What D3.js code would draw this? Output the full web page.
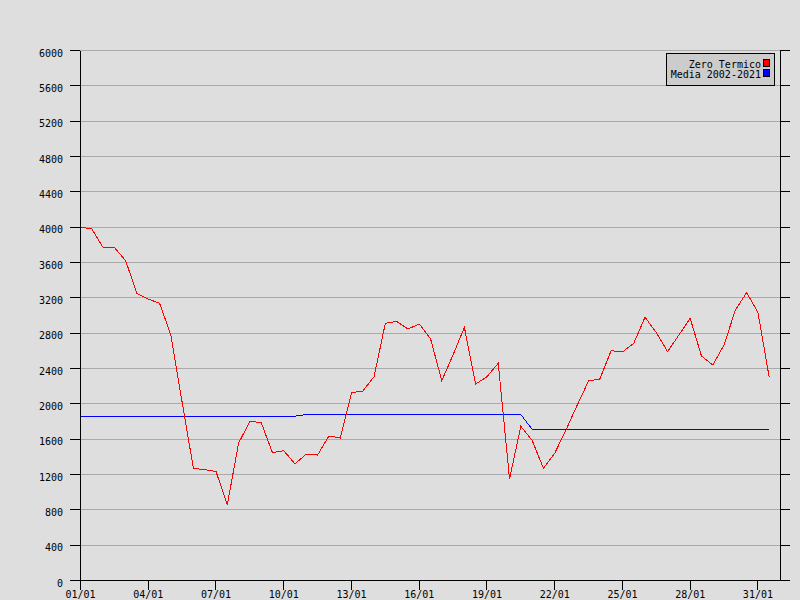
<!DOCTYPE html>
<html>
<head>
<meta charset="utf-8">
<script src="https://cdn.jsdelivr.net/npm/d3@7"></script>
<style>
  html, body { margin: 0; padding: 0; background: #dedede; }
  svg { display: block; }
  text { font-family: "DejaVu Sans Mono", monospace; font-size: 10px; fill: #000; }
</style>
</head>
<body>
<svg id="chart" width="800" height="600"></svg>
<script>
// ---- Data ----
const xTickLabels = ["01/01","04/01","07/01","10/01","13/01","16/01","19/01","22/01","25/01","28/01","31/01"];
const yTicks = [0,400,800,1200,1600,2000,2400,2800,3200,3600,4000,4400,4800,5200,5600,6000];
// two readings per day (00 and 12 UTC), 01/01 to 31/01 12h
const zeroTermico = [
  4000,3980,3770,3770,3620,3250,3185,3140,2780,2020,
  1270,1255,1235,855,1555,1800,1790,1447,1470,1320,
  1432,1420,1636,1613,2126,2145,2307,2912,2934,2847,
  2904,2738,2262,2555,2866,2225,2307,2459,1150,1745,
  1587,1270,1440,1704,1987,2259,2281,2602,2587,2685,
  2980,2806,2591,2779,2968,2542,2440,2666,3062,3258,
  3036,2300
];
const media = [
  1860,1860,1860,1860,1860,1860,1860,1860,1860,1860,
  1860,1860,1860,1860,1860,1860,1860,1860,1860,1860,
  1880,1880,1880,1880,1880,1880,1880,1880,1880,1880,
  1880,1880,1880,1880,1880,1880,1880,1880,1880,1880,
  1710,1710,1710,1710,1710,1710,1710,1710,1710,1710,
  1710,1710,1710,1710,1710,1710,1710,1710,1710,1710,
  1710,1710
];
const seriesNames = ["Zero Termico", "Media 2002-2021"];
const seriesColors = ["#ff0000", "#0000ff"];

// ---- Layout ----
const svg = d3.select("#chart");
const mLeft = 80, mRight = 780, mTop = 50, mBottom = 580;

svg.append("rect").attr("x",0).attr("y",0).attr("width",800).attr("height",600).attr("fill","#dedede");

const x = d3.scaleLinear().domain([0, 62]).range([mLeft, mRight]);
const y = d3.scaleLinear().domain([0, 6000]).range([mBottom, mTop]);

// grid
svg.append("g").selectAll("line").data(yTicks.filter(d => d > 0)).join("line")
  .attr("x1", mLeft).attr("x2", mRight)
  .attr("y1", d => y(d) + 0.5).attr("y2", d => y(d) + 0.5)
  .attr("stroke", "#aaaaaa").attr("stroke-width", 1)
  .attr("shape-rendering", "crispEdges");

// lines
const line = d3.line().x((d, i) => x(i) + 0.5).y(d => y(d) + 0.5);
svg.append("path").datum(media)
  .attr("d", line).attr("fill", "none").attr("stroke", seriesColors[1]).attr("stroke-width", 1)
  .attr("shape-rendering", "crispEdges");
svg.append("path").datum(zeroTermico)
  .attr("d", line).attr("fill", "none").attr("stroke", seriesColors[0]).attr("stroke-width", 1)
  .attr("shape-rendering", "crispEdges");

// axes
const yAxisL = d3.axisLeft(y).tickValues(yTicks).tickSize(10).tickSizeOuter(0).tickPadding(7)
  .tickFormat(d3.format("d"));
const gL = svg.append("g").attr("transform", `translate(${mLeft},0)`).call(yAxisL);
gL.selectAll("text").attr("dy", "0.6em");

const yAxisR = d3.axisRight(y).tickValues(yTicks).tickSize(10).tickSizeOuter(0).tickFormat("");
svg.append("g").attr("transform", `translate(${mRight},0)`).call(yAxisR);

const xAxis = d3.axisBottom(x).tickValues(xTickLabels.map((d, i) => i * 6))
  .tickFormat((d, i) => xTickLabels[i]).tickSize(10).tickSizeOuter(0).tickPadding(1);
svg.append("g").attr("transform", `translate(0,${mBottom})`).call(xAxis);

svg.selectAll(".domain, .tick line").attr("stroke", "#000").attr("shape-rendering", "crispEdges");
svg.selectAll(".tick text").style("font-family", "'DejaVu Sans Mono', monospace").style("font-size", "10px").attr("fill", "#000");

// legend
const lg = svg.append("g");
lg.append("rect").attr("x", 666.5).attr("y", 53.5).attr("width", 108).attr("height", 32)
  .attr("fill", "#cccccc").attr("stroke", "#000").attr("shape-rendering", "crispEdges");
seriesNames.forEach((name, i) => {
  lg.append("text").attr("x", 761).attr("y", 68 + i * 9.5).attr("text-anchor", "end").text(name);
  lg.append("rect").attr("x", 763.5).attr("y", 59.5 + i * 10).attr("width", 6).attr("height", 7)
    .attr("fill", seriesColors[i]).attr("stroke", "#000").attr("shape-rendering", "crispEdges");
});
</script>
</body>
</html>
